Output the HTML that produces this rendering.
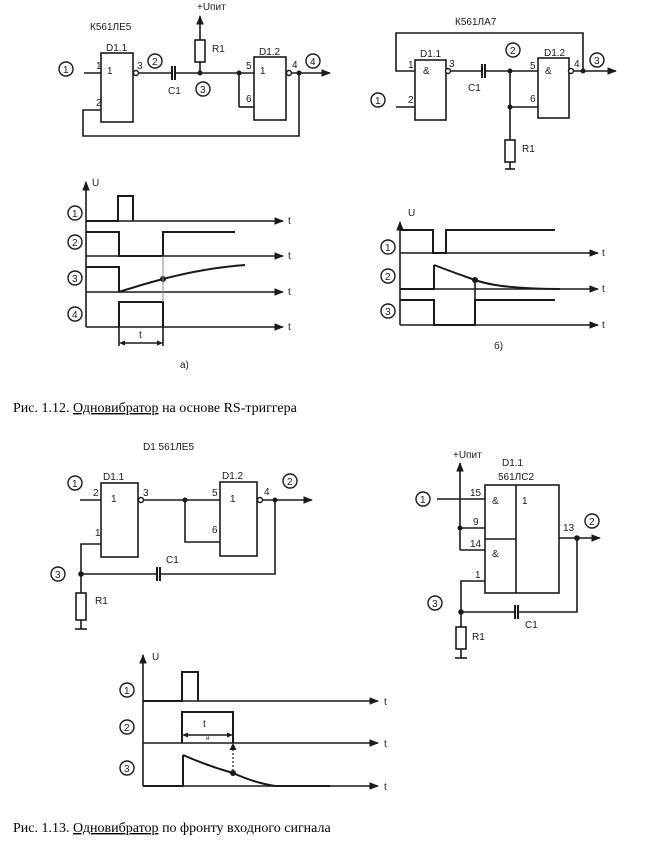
<!DOCTYPE html>
<html><head><meta charset="utf-8"><style>
html,body{margin:0;padding:0;background:#fff;}
svg{display:block;}
.l{stroke:#1a1a1a;stroke-width:1.6;fill:none;}
.t{stroke:#1a1a1a;stroke-width:2;fill:none;}
.f{fill:#1a1a1a;}
text{font-family:"Liberation Sans",sans-serif;font-size:10px;fill:#1a1a1a;}
.c{fill:#fff;stroke:#1a1a1a;stroke-width:1.4;}
.cap{font-family:"Liberation Serif","Noto Serif CJK SC",serif;font-size:14px;fill:#000;}
</style></head><body>
<svg width="645" height="849" viewBox="0 0 645 849" xmlns="http://www.w3.org/2000/svg">
<defs>
<marker id="a" viewBox="0 0 10 10" refX="9" refY="5" markerWidth="6" markerHeight="6" orient="auto"><path d="M0,1 L10,5 L0,9 z" fill="#1a1a1a"/></marker>
</defs>

<!-- ===== Circuit 1 ===== -->
<text x="90" y="30">К561ЛЕ5</text>
<text x="197" y="10">+Uпит</text>
<line class="l" x1="200" y1="40" x2="200" y2="16" marker-end="url(#a)"/>
<rect class="l" x="195" y="40" width="10" height="22"/>
<text x="212" y="52">R1</text>
<line class="l" x1="200" y1="62" x2="200" y2="73"/>
<rect class="l" x="101" y="53" width="32" height="69"/>
<text x="106" y="51">D1.1</text>
<text x="107" y="74">1</text>
<text x="96" y="69">1</text>
<text x="96" y="106">2</text>
<line class="l" x1="84" y1="73" x2="101" y2="73"/>
<circle class="c" cx="66" cy="69" r="7"/><text x="63" y="73">1</text>
<circle class="c" cx="136" cy="73" r="2.5"/>
<text x="137" y="69">3</text>
<line class="l" x1="139" y1="73" x2="172" y2="73"/>
<line class="t" x1="172" y1="66" x2="172" y2="80"/><line class="t" x1="175" y1="66" x2="175" y2="80"/>
<line class="l" x1="175" y1="73" x2="254" y2="73"/>
<text x="168" y="94">C1</text>
<circle class="c" cx="155" cy="61" r="7"/><text x="152" y="65">2</text>
<circle class="c" cx="203" cy="89" r="7"/><text x="200" y="93">3</text>
<circle class="f" cx="200" cy="73" r="2.5"/><circle class="f" cx="239" cy="73" r="2.5"/>
<line class="l" x1="239" y1="73" x2="239" y2="107"/><line class="l" x1="239" y1="107" x2="254" y2="107"/>
<rect class="l" x="254" y="57" width="32" height="63"/>
<text x="259" y="55">D1.2</text>
<text x="260" y="74">1</text>
<text x="246" y="69">5</text>
<text x="246" y="102">6</text>
<circle class="c" cx="289" cy="73" r="2.5"/>
<text x="292" y="68">4</text>
<line class="l" x1="292" y1="73" x2="330" y2="73" marker-end="url(#a)"/>
<circle class="f" cx="299" cy="73" r="2.5"/>
<circle class="c" cx="313" cy="61" r="7"/><text x="310" y="65">4</text>
<polyline class="l" points="299,73 299,136 83,136 83,110 101,110"/>

<!-- ===== Circuit 2 ===== -->
<text x="455" y="25">К561ЛА7</text>
<polyline class="l" points="415,71 396,71 396,33 583,33 583,71"/>
<rect class="l" x="415" y="60" width="31" height="60"/>
<text x="420" y="57">D1.1</text>
<text x="423" y="74">&amp;</text>
<text x="408" y="68">1</text>
<text x="408" y="103">2</text>
<line class="l" x1="396" y1="107" x2="415" y2="107"/>
<circle class="c" cx="378" cy="100" r="7"/><text x="375" y="104">1</text>
<circle class="c" cx="448" cy="71" r="2.5"/>
<text x="449" y="67">3</text>
<line class="l" x1="451" y1="71" x2="482" y2="71"/>
<line class="t" x1="482" y1="64" x2="482" y2="78"/><line class="t" x1="485" y1="64" x2="485" y2="78"/>
<line class="l" x1="485" y1="71" x2="538" y2="71"/>
<text x="468" y="91">C1</text>
<circle class="c" cx="513" cy="50" r="7"/><text x="510" y="54">2</text>
<circle class="f" cx="510" cy="71" r="2.5"/>
<line class="l" x1="510" y1="71" x2="510" y2="140"/>
<circle class="f" cx="510" cy="107" r="2.5"/>
<line class="l" x1="510" y1="107" x2="538" y2="107"/>
<rect class="l" x="505" y="140" width="10" height="22"/>
<line class="l" x1="510" y1="162" x2="510" y2="169"/><line class="l" x1="505" y1="169" x2="515" y2="169"/>
<text x="522" y="152">R1</text>
<rect class="l" x="538" y="58" width="31" height="60"/>
<text x="544" y="56">D1.2</text>
<text x="545" y="74">&amp;</text>
<text x="530" y="69">5</text>
<text x="530" y="102">6</text>
<circle class="c" cx="571" cy="71" r="2.5"/>
<text x="574" y="67">4</text>
<line class="l" x1="574" y1="71" x2="616" y2="71" marker-end="url(#a)"/>
<circle class="f" cx="583" cy="71" r="2.5"/>
<circle class="c" cx="597" cy="60" r="7"/><text x="594" y="64">3</text>

<!-- ===== Timing a ===== -->
<text x="92" y="186">U</text>
<line class="l" x1="86" y1="327" x2="86" y2="182" marker-end="url(#a)"/>
<circle class="c" cx="75" cy="213" r="7"/><text x="72" y="217">1</text>
<circle class="c" cx="75" cy="242" r="7"/><text x="72" y="246">2</text>
<circle class="c" cx="75" cy="278" r="7"/><text x="72" y="282">3</text>
<circle class="c" cx="75" cy="314" r="7"/><text x="72" y="318">4</text>
<line class="l" x1="86" y1="221" x2="283" y2="221" marker-end="url(#a)"/><text x="288" y="224">t</text>
<polyline class="t" points="86,221 118,221 118,196 133,196 133,221"/>
<line class="l" x1="86" y1="256" x2="283" y2="256" marker-end="url(#a)"/><text x="288" y="259">t</text>
<polyline class="t" points="86,232 119,232 119,256 163,256 163,232 235,232"/>
<line class="l" x1="86" y1="292" x2="283" y2="292" marker-end="url(#a)"/><text x="288" y="295">t</text>
<polyline class="t" points="86,267 119,267 119,292"/>
<path class="t" d="M119,292 Q140,285 163,279 Q205,268 245,265"/>
<circle class="f" cx="163" cy="279" r="3"/>
<line class="l" x1="86" y1="327" x2="283" y2="327" marker-end="url(#a)"/><text x="288" y="330">t</text>
<polyline class="t" points="119,327 119,302 163,302 163,327"/>
<line stroke="#888" stroke-width="1" x1="163" y1="256" x2="163" y2="302"/>
<line class="l" x1="119" y1="327" x2="119" y2="346"/><line class="l" x1="163" y1="327" x2="163" y2="346"/>
<line class="l" x1="121" y1="343" x2="161" y2="343"/>
<path class="f" d="M119,343 l6,-2.5 v5 z M163,343 l-6,-2.5 v5 z"/>
<text x="139" y="338">t</text>
<text x="180" y="368">а)</text>

<!-- ===== Timing b ===== -->
<text x="408" y="216">U</text>
<line class="l" x1="400" y1="325" x2="400" y2="222" marker-end="url(#a)"/>
<circle class="c" cx="388" cy="247" r="7"/><text x="385" y="251">1</text>
<circle class="c" cx="388" cy="276" r="7"/><text x="385" y="280">2</text>
<circle class="c" cx="388" cy="311" r="7"/><text x="385" y="315">3</text>
<line class="l" x1="400" y1="253" x2="598" y2="253" marker-end="url(#a)"/><text x="602" y="256">t</text>
<polyline class="t" points="400,230 433,230 433,253 446,253 446,230 555,230"/>
<line class="l" x1="400" y1="289" x2="598" y2="289" marker-end="url(#a)"/><text x="602" y="292">t</text>
<polyline class="t" points="400,289 434,289 434,265"/>
<path class="t" d="M434,265 Q455,273 475,280 Q500,289 560,289"/>
<circle class="f" cx="475" cy="280" r="3"/>
<line class="l" x1="400" y1="325" x2="598" y2="325" marker-end="url(#a)"/><text x="602" y="328">t</text>
<polyline class="t" points="400,300 434,300 434,325 475,325 475,300 555,300"/>
<line class="l" x1="475" y1="280" x2="475" y2="300"/>
<text x="494" y="349">б)</text>

<text class="cap" x="13" y="412">Рис. 1.12. <tspan text-decoration="underline">Одновибратор</tspan> на основе RS-триггера</text>

<!-- ===== Circuit 3 ===== -->
<text x="143" y="450">D1 561ЛЕ5</text>
<rect class="l" x="101" y="483" width="37" height="74"/>
<text x="103" y="480">D1.1</text>
<text x="111" y="502">1</text>
<text x="93" y="496">2</text>
<text x="95" y="536">1</text>
<line class="l" x1="80" y1="500" x2="101" y2="500"/>
<circle class="c" cx="75" cy="483" r="7"/><text x="72" y="487">1</text>
<circle class="c" cx="141" cy="500" r="2.5"/>
<text x="143" y="496">3</text>
<line class="l" x1="144" y1="500" x2="220" y2="500"/>
<circle class="f" cx="185" cy="500" r="2.5"/>
<polyline class="l" points="185,500 185,542 220,542"/>
<rect class="l" x="220" y="482" width="37" height="74"/>
<text x="222" y="479">D1.2</text>
<text x="230" y="502">1</text>
<text x="212" y="496">5</text>
<text x="212" y="533">6</text>
<circle class="c" cx="260" cy="500" r="2.5"/>
<text x="264" y="495">4</text>
<line class="l" x1="263" y1="500" x2="312" y2="500" marker-end="url(#a)"/>
<circle class="f" cx="275" cy="500" r="2.5"/>
<circle class="c" cx="290" cy="481" r="7"/><text x="287" y="485">2</text>
<polyline class="l" points="275,500 275,574 160,574"/>
<line class="t" x1="157" y1="567" x2="157" y2="581"/><line class="t" x1="160" y1="567" x2="160" y2="581"/>
<line class="l" x1="157" y1="574" x2="81" y2="574"/>
<text x="166" y="563">C1</text>
<polyline class="l" points="101,544 81,544 81,593"/>
<circle class="f" cx="81" cy="574" r="2.8"/>
<circle class="c" cx="58" cy="574" r="7"/><text x="55" y="578">3</text>
<rect class="l" x="76" y="593" width="10" height="27"/>
<line class="l" x1="81" y1="620" x2="81" y2="629"/><line class="l" x1="75" y1="629" x2="87" y2="629"/>
<text x="95" y="604">R1</text>

<!-- ===== Circuit 4 ===== -->
<text x="453" y="458">+Uпит</text>
<line class="l" x1="460" y1="550" x2="460" y2="463" marker-end="url(#a)"/>
<text x="502" y="466">D1.1</text>
<text x="498" y="480">561ЛС2</text>
<rect class="l" x="485" y="485" width="74" height="108"/>
<line class="l" x1="516" y1="485" x2="516" y2="593"/>
<line class="l" x1="485" y1="539" x2="516" y2="539"/>
<text x="492" y="504">&amp;</text>
<text x="492" y="557">&amp;</text>
<text x="522" y="504">1</text>
<line class="l" x1="437" y1="499" x2="485" y2="499"/>
<circle class="c" cx="423" cy="499" r="7"/><text x="420" y="503">1</text>
<text x="470" y="496">15</text>
<circle class="f" cx="460" cy="528" r="2.5"/>
<line class="l" x1="460" y1="528" x2="485" y2="528"/><text x="473" y="525">9</text>
<line class="l" x1="460" y1="550" x2="485" y2="550"/><text x="470" y="547">14</text>
<polyline class="l" points="485,581 461,581 461,627"/>
<text x="475" y="578">1</text>
<circle class="f" cx="461" cy="612" r="2.8"/>
<circle class="c" cx="435" cy="603" r="7"/><text x="432" y="607">3</text>
<line class="l" x1="461" y1="612" x2="515" y2="612"/>
<line class="t" x1="515" y1="605" x2="515" y2="619"/><line class="t" x1="518" y1="605" x2="518" y2="619"/>
<polyline class="l" points="518,612 577,612 577,538"/>
<text x="525" y="628">C1</text>
<line class="l" x1="559" y1="538" x2="600" y2="538" marker-end="url(#a)"/>
<circle class="f" cx="577" cy="538" r="2.8"/>
<text x="563" y="531">13</text>
<circle class="c" cx="592" cy="521" r="7"/><text x="589" y="525">2</text>
<rect class="l" x="456" y="627" width="10" height="22"/>
<line class="l" x1="461" y1="649" x2="461" y2="658"/><line class="l" x1="455" y1="658" x2="467" y2="658"/>
<text x="472" y="640">R1</text>

<!-- ===== Timing c ===== -->
<text x="152" y="660">U</text>
<line class="l" x1="143" y1="786" x2="143" y2="655" marker-end="url(#a)"/>
<circle class="c" cx="127" cy="690" r="7"/><text x="124" y="694">1</text>
<circle class="c" cx="127" cy="727" r="7"/><text x="124" y="731">2</text>
<circle class="c" cx="127" cy="768" r="7"/><text x="124" y="772">3</text>
<line class="l" x1="143" y1="701" x2="378" y2="701" marker-end="url(#a)"/><text x="384" y="705">t</text>
<polyline class="t" points="143,701 182,701 182,672 198,672 198,701"/>
<line class="l" x1="143" y1="743" x2="378" y2="743" marker-end="url(#a)"/><text x="384" y="747">t</text>
<polyline class="t" points="182,743 182,712 233,712 233,743"/>
<line class="l" x1="184" y1="735" x2="231" y2="735"/>
<path class="f" d="M182,735 l6,-2.5 v5 z M233,735 l-6,-2.5 v5 z"/>
<text x="203" y="727">t</text><text x="206" y="740" style="font-size:6px">и</text>
<line class="l" x1="143" y1="786" x2="378" y2="786" marker-end="url(#a)"/><text x="384" y="790">t</text>
<polyline class="t" points="143,786 183,786 183,755"/>
<path class="t" d="M183,755 Q208,766 233,773 Q255,783 275,786 L330,786"/>
<circle class="f" cx="233" cy="773" r="3"/>
<line stroke="#1a1a1a" stroke-width="1.2" stroke-dasharray="2,2" x1="233" y1="749" x2="233" y2="771"/>
<path class="f" d="M233,743 l-3.5,7 h7 z"/>

<text class="cap" x="13" y="832">Рис. 1.13. <tspan text-decoration="underline">Одновибратор</tspan> по фронту входного сигнала</text>
</svg>
</body></html>
